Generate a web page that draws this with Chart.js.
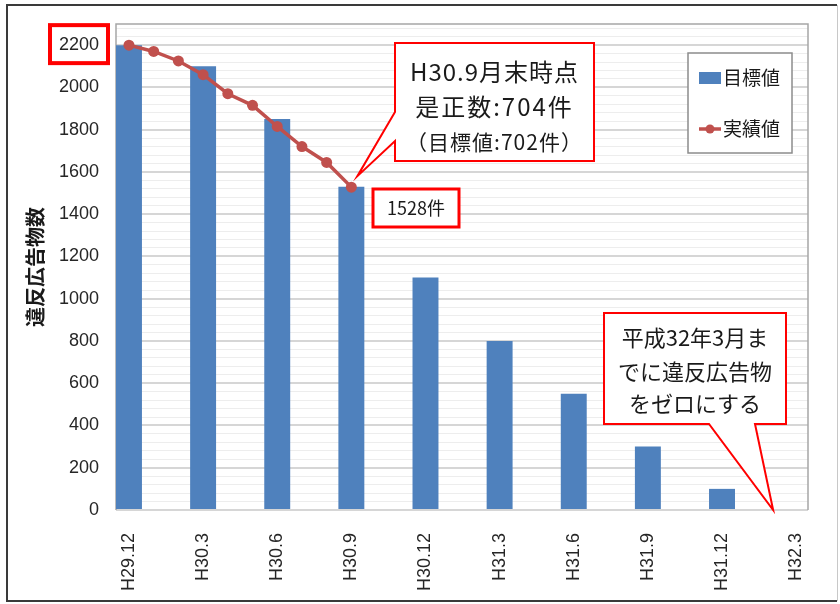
<!DOCTYPE html>
<html>
<head>
<meta charset="utf-8">
<script src="https://cdn.jsdelivr.net/npm/chart.js@4/dist/chart.umd.min.js"></script>
<style>
  html, body { margin: 0; padding: 0; background: #fff; }
  #wrap { width: 840px; height: 604px; position: relative; }
</style>
</head>
<body>
<div id="wrap"><canvas id="chart" width="840" height="604"></canvas></div>
<script>
  "use strict";

  const categories = ["H29.12", "H30.3", "H30.6", "H30.9", "H30.12", "H31.3", "H31.6", "H31.9", "H31.12", "H32.3"];
  const targetValues = [2200, 2100, 1850, 1530, 1100, 800, 550, 300, 100, 0];
  // monthly results, H29.12 .. H30.9 (one point per month)
  const actualMonths = [0, 1, 2, 3, 4, 5, 6, 7, 8, 9];
  const actualValues = [2200, 2170, 2125, 2060, 1970, 1915, 1815, 1720, 1645, 1528];
  const yMajorTicks = [0, 200, 400, 600, 800, 1000, 1200, 1400, 1600, 1800, 2000, 2200];
  const yMinorStep = 40;

  const seriesNames = ["目標値", "実績値"];
  const barColor = "#4F81BD";
  const lineColor = "#C0504D";
  const jpFont = "'Noto Sans CJK JP', 'Noto Sans', sans-serif";
  const numFont = "'Liberation Sans', Arial, sans-serif";

  const yTickValues = [];
  for (let v = 0; v < 2300; v += yMinorStep) yTickValues.push(v);

  const drawCallout = (ctx, box, pointer, lines) => {
    const [x0, y0, x1, y1] = box;
    ctx.save();
    ctx.beginPath();
    ctx.moveTo(x0, y0);
    ctx.lineTo(x1, y0);
    if (pointer.side === "bottom") {
      ctx.lineTo(x1, y1);
      ctx.lineTo(pointer.b, y1);
      ctx.lineTo(pointer.tip[0], pointer.tip[1]);
      ctx.lineTo(pointer.a, y1);
      ctx.lineTo(x0, y1);
      ctx.lineTo(x0, y0);
    } else {
      ctx.lineTo(x1, y1);
      ctx.lineTo(x0, y1);
      ctx.lineTo(x0, pointer.b);
      ctx.lineTo(pointer.tip[0], pointer.tip[1]);
      ctx.lineTo(x0, pointer.a);
      ctx.lineTo(x0, y0);
    }
    ctx.closePath();
    ctx.fillStyle = "#fff";
    ctx.fill();
    ctx.strokeStyle = "#ff0000";
    ctx.lineWidth = 2;
    ctx.stroke();
    ctx.fillStyle = "#1a1a1a";
    ctx.textAlign = "center";
    ctx.textBaseline = "middle";
    const cx = (x0 + x1) / 2;
    lines.forEach((l) => {
      ctx.font = l.font;
      ctx.letterSpacing = l.spacing || "0px";
      ctx.fillText(l.text, cx, l.y);
    });
    ctx.restore();
  };

  const decorations = {
    id: "decorations",
    beforeDatasetsDraw(chart) {
      const { ctx, chartArea } = chart;
      ctx.save();
      ctx.strokeStyle = "#a6a6a6";
      ctx.lineWidth = 1.5;
      ctx.beginPath();
      ctx.moveTo(chartArea.left, chartArea.bottom);
      ctx.lineTo(chartArea.left, chartArea.top);
      ctx.lineTo(chartArea.right, chartArea.top);
      ctx.lineTo(chartArea.right, chartArea.bottom);
      ctx.stroke();
      ctx.restore();
    },
    afterDraw(chart) {
      const { ctx } = chart;
      const xs = chart.scales.x;
      const ys = chart.scales.y;

      // outer frame
      ctx.save();
      ctx.strokeStyle = "#3a3a3a";
      ctx.lineWidth = 2;
      ctx.beginPath();
      ctx.moveTo(837, 5);
      ctx.lineTo(7, 5);
      ctx.lineTo(7, 601);
      ctx.lineTo(837, 601);
      ctx.stroke();
      ctx.strokeStyle = "#c8c8c8";
      ctx.lineWidth = 1;
      ctx.beginPath();
      ctx.moveTo(837.5, 5);
      ctx.lineTo(837.5, 601);
      ctx.stroke();
      ctx.restore();

      // red box on the 2200 tick label
      const yTop = ys.getPixelForValue(2200);
      ctx.save();
      ctx.strokeStyle = "#ff0000";
      ctx.lineWidth = 4;
      ctx.strokeRect(50, yTop - 20, 58, 38);
      ctx.restore();

      // legend
      ctx.save();
      ctx.fillStyle = "#fff";
      ctx.fillRect(688, 53, 104, 100);
      ctx.strokeStyle = "#8c8c8c";
      ctx.lineWidth = 1.5;
      ctx.strokeRect(688, 53, 104, 100);
      ctx.fillStyle = barColor;
      ctx.fillRect(699, 72, 22, 12);
      ctx.strokeStyle = lineColor;
      ctx.lineWidth = 3.5;
      ctx.beginPath();
      ctx.moveTo(699, 129);
      ctx.lineTo(721, 129);
      ctx.stroke();
      ctx.fillStyle = lineColor;
      ctx.beginPath();
      ctx.arc(710, 129, 4.5, 0, Math.PI * 2);
      ctx.fill();
      ctx.fillStyle = "#1a1a1a";
      ctx.font = "19px " + jpFont;
      ctx.textBaseline = "middle";
      ctx.fillText(seriesNames[0], 723, 78);
      ctx.fillText(seriesNames[1], 723, 129);
      ctx.restore();

      // last actual value label
      const lastIdx = actualValues.length - 1;
      const px = xs.getPixelForValue(actualMonths[lastIdx] / 3);
      const py = ys.getPixelForValue(actualValues[lastIdx]);
      ctx.save();
      ctx.fillStyle = "#fff";
      ctx.fillRect(373, 189, 86, 38);
      ctx.strokeStyle = "#ff0000";
      ctx.lineWidth = 3;
      ctx.strokeRect(373, 189, 86, 38);
      ctx.fillStyle = "#1a1a1a";
      ctx.font = "18px " + jpFont;
      ctx.textAlign = "center";
      ctx.textBaseline = "middle";
      ctx.fillText(actualValues[lastIdx] + "件", 416, 208);
      ctx.restore();

      drawCallout(ctx, [395, 43, 594, 161], { side: "left", a: 112, b: 141, tip: [px + 6, py - 11] }, [
        { text: "H30.9月末時点", y: 72, font: "24px " + jpFont, spacing: "1px" },
        { text: "是正数:704件", y: 107, font: "24px " + jpFont, spacing: "2px" },
        { text: "（目標値:702件）", y: 142, font: "21px " + jpFont, spacing: "1px" },
      ]);

      drawCallout(ctx, [604, 313, 786, 424], { side: "bottom", a: 709, b: 755, tip: [xs.getPixelForValue(9) - 23, ys.getPixelForValue(0)] }, [
        { text: "平成32年3月ま", y: 338, font: "22px " + jpFont },
        { text: "でに違反広告物", y: 372, font: "22px " + jpFont },
        { text: "をゼロにする", y: 404, font: "22px " + jpFont },
      ]);
    },
  };

  new Chart(document.getElementById("chart"), {
    data: {
      datasets: [
        {
          type: "line",
          label: seriesNames[1],
          data: actualMonths.map((m, i) => ({ x: m / 3, y: actualValues[i] })),
          borderColor: lineColor,
          backgroundColor: lineColor,
          borderWidth: 3.5,
          pointRadius: 5.5,
          pointBackgroundColor: lineColor,
          pointBorderWidth: 0,
          tension: 0,
          fill: false,
          order: 0,
        },
        {
          type: "bar",
          label: seriesNames[0],
          data: categories.map((c, i) => ({ x: i, y: targetValues[i] })),
          backgroundColor: barColor,
          borderWidth: 0,
          categoryPercentage: 1,
          barPercentage: 0.35,
          order: 1,
        },
      ],
    },
    options: {
      responsive: false,
      animation: false,
      layout: { padding: { left: 0, top: 24, right: 32, bottom: 0 } },
      plugins: {
        legend: { display: false },
        tooltip: { enabled: false },
      },
      scales: {
        x: {
          type: "linear",
          offset: false,
          min: -0.175,
          max: 9.16,
          afterBuildTicks: (scale) => {
            scale.ticks = categories.map((c, i) => ({ value: i }));
          },
          afterFit: (scale) => {
            scale.height = 94;
          },
          grid: { display: false },
          border: { display: false },
          ticks: {
            autoSkip: false,
            maxRotation: 90,
            minRotation: 90,
            padding: 15,
            color: "#262626",
            font: { family: numFont, size: 18 },
            callback: (v) => categories[v] ?? "",
          },
        },
        y: {
          type: "linear",
          min: 0,
          max: 2300,
          afterBuildTicks: (scale) => {
            scale.ticks = yTickValues.map((v) => ({ value: v }));
          },
          afterFit: (scale) => {
            scale.width = 116;
          },
          border: { display: false },
          grid: {
            drawTicks: false,
            color: (c) => (yMajorTicks.includes(c.tick.value) ? "#d6d6d6" : "#ededed"),
            lineWidth: (c) => (yMajorTicks.includes(c.tick.value) ? 2 : 1),
          },
          ticks: {
            autoSkip: false,
            padding: 17,
            color: "#262626",
            font: { family: numFont, size: 18, lineHeight: 0.7 },
            callback: (v) => (yMajorTicks.includes(v) ? String(v) : ""),
          },
          title: {
            display: true,
            text: "違反広告物数",
            color: "#1a1a1a",
            font: { family: jpFont, size: 20, weight: "bold" },
            padding: { top: 23, bottom: 0 },
          },
        },
      },
    },
    plugins: [decorations],
  });
</script>
</body>
</html>
